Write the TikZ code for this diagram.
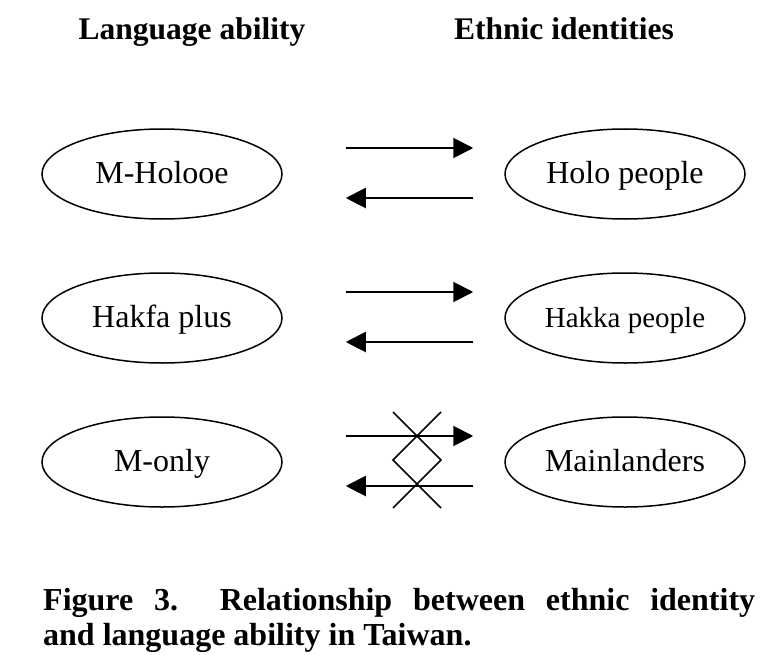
\documentclass[tikz,border=0pt]{standalone}
\usepackage{fontspec}
\setmainfont{Liberation Serif}
\usetikzlibrary{arrows.meta, shapes.geometric}
\tikzset{>={Triangle[length=20pt,width=20pt]}}
\tikzset{group/.style={draw, ellipse, line width=1.5pt, minimum width=240pt, minimum height=90pt, inner sep=0pt, text height=24pt, text depth=5pt, font=\fontsize{32}{36}\selectfont}}
\tikzset{head/.style={anchor=base, inner sep=0pt, font=\fontsize{31.5}{36}\selectfont\bfseries}}
\tikzset{captext/.style={anchor=base west, inner sep=0pt, font=\fontsize{32}{36}\selectfont\bfseries}}

\begin{document}
\begin{tikzpicture}[x=1pt, y=-1pt]
	\useasboundingbox (0,0) rectangle (762,655);
	\node [head] (lang) at (192,40) {Language ability};
	\node [head] (ethn) at (564,40) {Ethnic identities};
	% language groups
	\node [group] (mholo) at (162,174) {M-Holooe};
	\node [group] (hplus) at (162,318) {Hakfa plus};
	\node [group] (monly) at (162,462) {M-only};
	% ethnic groups
	\node [group] (holo) at (625,174) {Holo people};
	\node [group, font=\fontsize{29}{34}\selectfont] (hakka) at (625,318) {Hakka people};
	\node [group] (main) at (625,462) {Mainlanders};
	\foreach \a/\b in {mholo/holo, hplus/hakka, monly/main}
	{
	\draw [->, line width=2pt, shorten <=63pt, shorten >=31pt] ([yshift=26pt]\a.east) -- ([yshift=26pt]\b.west);
	\draw [->, line width=2pt, shorten <=31pt, shorten >=63pt] ([yshift=-24pt]\b.west) -- ([yshift=-24pt]\a.east);
	}
	% crossed out
	\draw [line width=1.5pt] (393,412) -- (441,460) -- (393,508);
	\draw [line width=1.5pt] (441,412) -- (393,460) -- (441,508);
	\node [captext] (cap1) at (43,610) {\makebox[712pt][s]{Figure 3.\ \ Relationship between ethnic identity}};
	\node [captext] (cap2) at (43,645) {and language ability in Taiwan.};
\end{tikzpicture}
\end{document}
